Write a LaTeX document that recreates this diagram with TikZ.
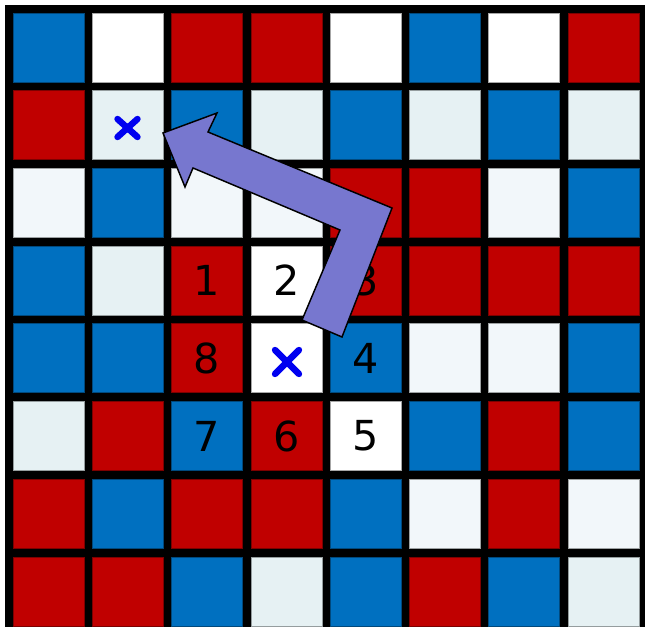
\documentclass[tikz,border=0pt]{standalone}
\usepackage{fontspec}
\usetikzlibrary{calc}
\newfontfamily\digitfont{DejaVu Sans}
\definecolor{cB}{HTML}{0070C0}
\definecolor{cR}{HTML}{C00000}
\definecolor{cW}{HTML}{FFFFFF}
\definecolor{cL}{HTML}{E6F1F3}
\definecolor{cM}{HTML}{F2F7FA}
\definecolor{arrowfill}{HTML}{7777CF}
\definecolor{xblue}{HTML}{0000F0}
\tikzset{
  cellbox/.style={line width=0.6pt},
  digit/.style={font=\digitfont\fontsize{31}{31}\selectfont, text=black, inner sep=0pt},
  crossmark/.style={draw=xblue, line width=4.8pt, line cap=round},
  bigarrow/.style={fill=arrowfill, draw=black, line width=1.1pt, line join=miter}
}
\begin{document}
\begin{tikzpicture}[x=0.75pt,y=-0.75pt]
\useasboundingbox (0,0) rectangle (645,627);
\fill[black] (5,5) rectangle (645,627);
\def\px{79.3}\def\py{77.7}
\foreach \row [count=\i from 0] in {
  {cB,cW,cR,cR,cW,cB,cW,cR},
  {cR,cL,cB,cL,cB,cL,cB,cL},
  {cM,cB,cM,cM,cR,cR,cM,cB},
  {cB,cL,cR,cW,cR,cR,cR,cR},
  {cB,cB,cR,cW,cB,cM,cM,cB},
  {cL,cR,cB,cR,cW,cB,cR,cB},
  {cR,cB,cR,cR,cB,cM,cR,cM},
  {cR,cR,cB,cL,cB,cR,cB,cL}}{
  \foreach \c [count=\j from 0] in \row {
    \path[cellbox, fill=\c, draw=\c!65!black] ({13+\px*\j},{13+\py*\i}) rectangle ++(71,69);
    \coordinate (c\i\j) at ({13+\px*\j+35.5},{13+\py*\i+34.5});
  }
}
\node[digit] (n1) at (c32) {1};
\node[digit] (n2) at (c33) {2};
\node[digit] (n3) at (c34) {3};
\node[digit] (n4) at (c44) {4};
\node[digit] (n5) at (c54) {5};
\node[digit] (n6) at (c53) {6};
\node[digit] (n7) at (c52) {7};
\node[digit] (n8) at (c42) {8};
% crosses
\coordinate (xa) at (127.5,128);
\draw[crossmark] ($(xa)+(-10,-9)$) -- ($(xa)+(10,9)$) ($(xa)+(10,-9)$) -- ($(xa)+(-10,9)$);
\coordinate (xb) at (287,362);
\draw[crossmark] ($(xb)+(-12,-12)$) -- ($(xb)+(12,12)$) ($(xb)+(12,-12)$) -- ($(xb)+(-12,12)$);
% arrow
\draw[bigarrow] (163,133) -- (217,113) -- (208,132) -- (392,208) -- (342,337) -- (302,320) -- (340,230) -- (193,168) -- (185,187) -- cycle;
\end{tikzpicture}
\end{document}
